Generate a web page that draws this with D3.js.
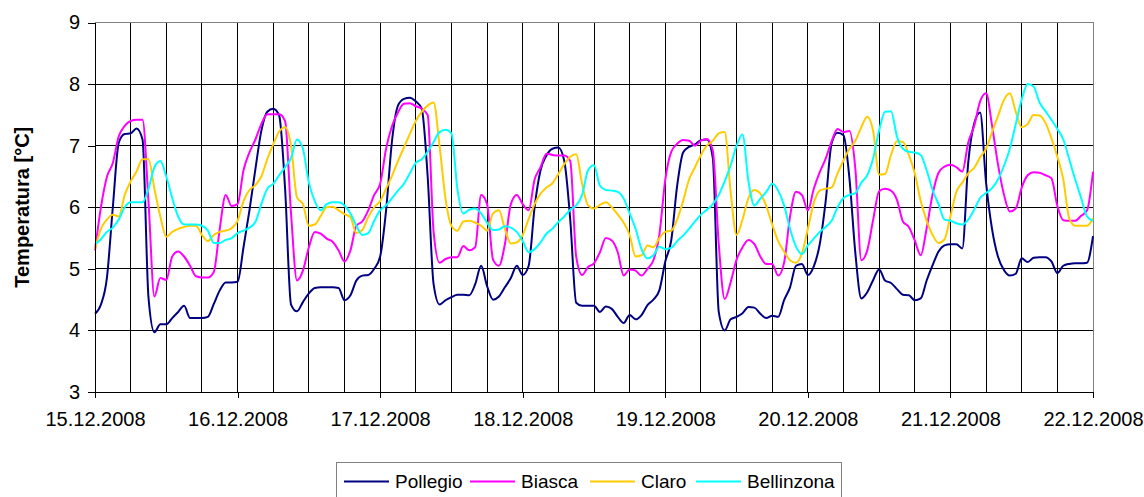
<!DOCTYPE html>
<html>
<head>
<meta charset="utf-8">
<title>Temperatura</title>
<style>
  body { margin: 0; background: #fff; }
  text { font-family: "Liberation Sans", Arial, sans-serif; fill: #000; }
</style>
</head>
<body>
<script src="https://cdn.jsdelivr.net/npm/d3@7/dist/d3.min.js"></script>
<script>
// hourly readings, 15.12.2008 00:00 -> 22.12.2008 00:00
var dayLabels = ["15.12.2008", "16.12.2008", "17.12.2008", "18.12.2008", "19.12.2008", "20.12.2008", "21.12.2008", "22.12.2008"];
var yTicks = [3, 4, 5, 6, 7, 8, 9];
var seriesNames = ["Pollegio", "Biasca", "Claro", "Bellinzona"];
var seriesColors = ["#000080", "#ff00ff", "#ffcc00", "#00ffff"];

var pollegio = [
  4.27, 4.42, 4.85, 6.0, 7.05, 7.19, 7.2, 7.28, 7.1, 4.54, 3.97, 4.1, 4.1, 4.2, 4.3, 4.4, 4.2, 4.2, 4.2, 4.22, 4.43, 4.65, 4.78, 4.78,
  4.79, 5.35, 5.95, 6.62, 7.24, 7.55, 7.6, 7.49, 6.3, 4.42, 4.31, 4.46, 4.6, 4.69, 4.7, 4.7, 4.7, 4.69, 4.49, 4.57, 4.81, 4.89, 4.9, 5.0,
  5.2, 5.95, 7.08, 7.65, 7.76, 7.78, 7.72, 7.6, 6.5, 4.75, 4.42, 4.49, 4.54, 4.58, 4.58, 4.57, 4.75, 5.05, 4.72, 4.5, 4.55, 4.7, 4.85, 5.05,
  4.9, 5.05, 6.0, 6.6, 6.84, 6.95, 6.97, 6.75, 5.8, 4.45, 4.4, 4.4, 4.4, 4.3, 4.39, 4.35, 4.22, 4.12, 4.25, 4.18, 4.25, 4.41, 4.5, 4.65,
  5.12, 5.46, 6.35, 6.89, 6.98, 7.02, 7.09, 7.1, 6.8, 4.3, 4.0, 4.18, 4.22, 4.28, 4.38, 4.37, 4.27, 4.2, 4.24, 4.22, 4.49, 4.7, 5.05, 5.08,
  4.9, 5.04, 5.4, 6.1, 7.04, 7.21, 7.17, 6.47, 5.25, 4.52, 4.62, 4.82, 4.99, 4.81, 4.77, 4.67, 4.58, 4.57, 4.49, 4.52, 4.81, 5.06, 5.28, 5.38,
  5.4, 5.4, 5.33, 6.73, 7.36, 7.54, 6.4, 5.65, 5.2, 4.98, 4.89, 4.92, 5.17, 5.11, 5.18, 5.19, 5.19, 5.12, 4.93, 5.05, 5.08, 5.09, 5.09, 5.1, 5.53
];
var biasca = [
  5.3, 6.0, 6.49, 6.72, 7.15, 7.32, 7.4, 7.42, 7.42, 6.1, 4.55, 4.85, 4.82, 5.2, 5.28, 5.2, 5.05, 4.88, 4.86, 4.86, 4.95, 5.65, 6.2, 6.02,
  6.05, 6.6, 6.89, 7.1, 7.35, 7.51, 7.51, 7.51, 7.4, 5.9, 4.81, 4.97, 5.35, 5.6, 5.57, 5.49, 5.44, 5.3, 5.12, 5.3, 5.7, 5.77, 5.95, 6.2,
  6.38, 6.95, 7.32, 7.54, 7.68, 7.69, 7.64, 7.6, 7.5, 5.6, 5.1, 5.16, 5.19, 5.19, 5.37, 5.3, 5.35, 6.2, 6.05, 5.15, 5.05, 5.4, 6.05, 6.2,
  6.05, 5.95, 6.45, 6.65, 6.87, 6.85, 6.84, 6.84, 6.75, 5.2, 4.9, 5.03, 5.09, 5.27, 5.5, 5.46, 5.27, 4.89, 4.99, 4.97, 4.89, 5.0, 5.14, 5.55,
  6.45, 6.9, 7.03, 7.09, 7.08, 7.0, 7.08, 7.11, 6.92, 5.4, 4.51, 4.78, 5.15, 5.35, 5.47, 5.4, 5.2, 5.08, 5.08, 4.89, 5.1, 5.85, 6.25, 6.2,
  5.95, 6.3, 6.57, 6.79, 7.07, 7.27, 7.22, 7.24, 6.62, 5.14, 5.3, 5.8, 6.26, 6.3, 6.27, 6.12, 5.77, 5.68, 5.46, 5.22, 5.66, 6.21, 6.56, 6.66,
  6.69, 6.65, 6.58, 7.05, 7.32, 7.72, 7.85, 7.33, 6.7, 6.21, 5.93, 5.98, 6.32, 6.52, 6.57, 6.56, 6.52, 6.47, 6.02, 5.79, 5.78, 5.78, 5.86, 5.95, 6.58
];
var claro = [
  5.32, 5.65, 5.8, 5.88, 5.85, 6.2, 6.42, 6.58, 6.78, 6.78, 6.3, 5.85, 5.52, 5.6, 5.65, 5.68, 5.7, 5.7, 5.55, 5.45, 5.55, 5.6, 5.62, 5.66,
  5.78, 6.1, 6.28, 6.36, 6.5, 6.78, 7.02, 7.23, 7.3, 7.0, 6.16, 6.05, 5.7, 5.72, 5.86, 6.0, 6.01, 5.95, 5.89, 5.84, 5.58, 5.63, 5.84, 6.0,
  6.1, 6.3, 6.51, 6.75, 6.97, 7.19, 7.4, 7.55, 7.65, 7.7, 7.0, 6.14, 5.7, 5.62, 5.77, 5.78, 5.75, 5.7, 5.62, 5.9, 5.95, 5.65, 5.41, 5.43,
  5.55, 5.81, 6.05, 6.22, 6.32, 6.39, 6.54, 6.7, 6.82, 6.86, 6.38, 6.03, 5.98, 6.04, 6.08, 6.0, 5.88, 5.75, 5.55, 5.2, 5.22, 5.38, 5.35, 5.5,
  5.6, 5.62, 5.8, 6.1, 6.45, 6.65, 6.85, 7.0, 7.08, 7.2, 7.22, 6.25, 5.55, 5.8, 6.15, 6.28, 6.22, 6.02, 5.72, 5.45, 5.28, 5.14, 5.1, 5.25,
  5.65, 6.07, 6.27, 6.3, 6.32, 6.55, 6.76, 6.95, 7.08, 7.3, 7.47, 7.23, 6.53, 6.54, 6.85, 7.07, 7.06, 6.85, 6.55, 6.1, 5.78, 5.55, 5.42, 5.48,
  5.85, 6.25, 6.4, 6.55, 6.64, 6.81, 6.95, 7.22, 7.48, 7.74, 7.85, 7.55, 7.3, 7.35, 7.5, 7.49, 7.37, 7.12, 6.82, 6.45, 5.82, 5.7, 5.7, 5.7, 5.82
];
var bellinzona = [
  5.4, 5.48, 5.6, 5.67, 5.8, 6.0, 6.08, 6.08, 6.08, 6.3, 6.65, 6.75, 6.5, 6.15, 5.85, 5.72, 5.72, 5.72, 5.7, 5.62, 5.42, 5.42, 5.47, 5.5,
  5.58, 5.62, 5.67, 5.76, 6.05, 6.3, 6.38, 6.52, 6.65, 6.8, 7.1, 6.95, 6.4, 6.1, 5.95, 6.05, 6.08, 6.08, 6.03, 5.9, 5.7, 5.55, 5.58, 5.78,
  5.95, 6.03, 6.15, 6.27, 6.38, 6.55, 6.72, 6.78, 6.9, 7.06, 7.22, 7.26, 7.2, 6.3, 5.9, 5.96, 5.98, 5.9, 5.75, 5.63, 5.64, 5.69, 5.67, 5.6,
  5.45, 5.27, 5.32, 5.43, 5.57, 5.65, 5.76, 5.85, 5.96, 6.03, 6.2, 6.6, 6.68, 6.35, 6.28, 6.27, 6.25, 6.14, 5.9, 5.65, 5.32, 5.17, 5.22, 5.36,
  5.32, 5.34, 5.45, 5.54, 5.65, 5.77, 5.88, 5.96, 6.05, 6.2, 6.42, 6.68, 7.0, 7.18, 6.42, 6.03, 6.14, 6.25, 6.38, 6.27, 6.03, 5.65, 5.36, 5.24,
  5.38, 5.49, 5.6, 5.68, 5.78, 6.0, 6.15, 6.2, 6.23, 6.4, 6.52, 6.8, 7.25, 7.55, 7.56, 7.15, 6.95, 6.9, 6.89, 6.85, 6.6, 6.28, 6.05, 5.8,
  5.78, 5.74, 5.72, 5.8, 5.96, 6.15, 6.23, 6.31, 6.45, 6.67, 6.95, 7.35, 7.75, 8.0, 7.96, 7.7, 7.56, 7.42, 7.27, 7.1, 6.78, 6.45, 6.15, 5.85, 5.78
];
var seriesValues = [pollegio, biasca, claro, bellinzona];

// layout
var width = 1144, height = 497;
var margin = {top: 22.5, right: 51, bottom: 105, left: 95};
var hoursPerDay = 24;
var totalHours = (dayLabels.length - 1) * hoursPerDay;

var x = d3.scaleLinear().domain([0, totalHours]).range([margin.left, width - margin.right]);
var y = d3.scaleLinear().domain([yTicks[0], yTicks[yTicks.length - 1]]).range([height - margin.bottom, margin.top]);

var svg = d3.select("body").append("svg")
  .attr("width", width)
  .attr("height", height);

// grid
var grid = svg.append("g").attr("shape-rendering", "crispEdges");
grid.selectAll(".hgrid")
  .data(yTicks.slice(1, -1))
  .enter().append("line")
  .attr("x1", x(0)).attr("x2", x(totalHours))
  .attr("y1", function (d) { return y(d); })
  .attr("y2", function (d) { return y(d); })
  .attr("stroke", "#000");

grid.selectAll(".vgrid")
  .data(d3.range(6, totalHours, 6))
  .enter().append("line")
  .attr("x1", function (d) { return x(d); })
  .attr("x2", function (d) { return x(d); })
  .attr("y1", y(yTicks[0])).attr("y2", y(yTicks[yTicks.length - 1]))
  .attr("stroke", "#000");

// plot border
grid.append("rect")
  .attr("x", x(0)).attr("y", y(yTicks[yTicks.length - 1]))
  .attr("width", x(totalHours) - x(0))
  .attr("height", y(yTicks[0]) - y(yTicks[yTicks.length - 1]))
  .attr("fill", "none")
  .attr("stroke", "#808080");

// series lines
var line = d3.line()
  .x(function (d, i) { return x(i); })
  .y(function (d) { return y(d); })
  .curve(d3.curveMonotoneX);

svg.append("g").selectAll("path")
  .data(seriesValues)
  .enter().append("path")
  .attr("d", line)
  .attr("fill", "none")
  .attr("stroke", function (d, i) { return seriesColors[i]; })
  .attr("stroke-width", 2)
  .attr("stroke-linejoin", "round");

// axes
var yAxis = svg.append("g")
  .attr("transform", "translate(" + margin.left + ",0)")
  .call(d3.axisLeft(y).tickValues(yTicks).tickFormat(d3.format("d")).tickSize(7).tickSizeOuter(0).tickPadding(8));

var xAxis = svg.append("g")
  .attr("transform", "translate(0," + y(yTicks[0]) + ")")
  .call(d3.axisBottom(x)
    .tickValues(dayLabels.map(function (d, i) { return i * hoursPerDay; }))
    .tickFormat(function (d, i) { return dayLabels[i]; })
    .tickSize(6).tickSizeOuter(0).tickPadding(14));

svg.selectAll(".tick text")
  .style("font-size", "20px")
  .style("font-family", "'Liberation Sans', Arial, sans-serif");
svg.selectAll(".domain, .tick line")
  .attr("stroke", "#000")
  .attr("shape-rendering", "crispEdges");

// y axis label
svg.append("text")
  .attr("transform", "translate(22," + (y(yTicks[0]) + y(yTicks[yTicks.length - 1])) / 2 + ") rotate(-90)")
  .attr("text-anchor", "middle")
  .attr("dominant-baseline", "central")
  .style("font-size", "20px")
  .style("font-weight", "bold")
  .text("Temperatura [°C]");

// legend
var legendX = [344, 470, 590, 696];
var legend = svg.append("g");
legend.append("rect")
  .attr("x", 336.5).attr("y", 462.5)
  .attr("width", 505).attr("height", 40)
  .attr("fill", "#fff")
  .attr("stroke", "#808080");

var items = legend.selectAll(".item")
  .data(seriesNames)
  .enter().append("g");
items.append("line")
  .attr("x1", function (d, i) { return legendX[i]; })
  .attr("x2", function (d, i) { return legendX[i] + 45; })
  .attr("y1", 481.5).attr("y2", 481.5)
  .attr("stroke", function (d, i) { return seriesColors[i]; })
  .attr("stroke-width", 2);
items.append("text")
  .attr("x", function (d, i) { return legendX[i] + 51; })
  .attr("y", 488)
  .style("font-size", "19px")
  .text(function (d) { return d; });
</script>
</body>
</html>
